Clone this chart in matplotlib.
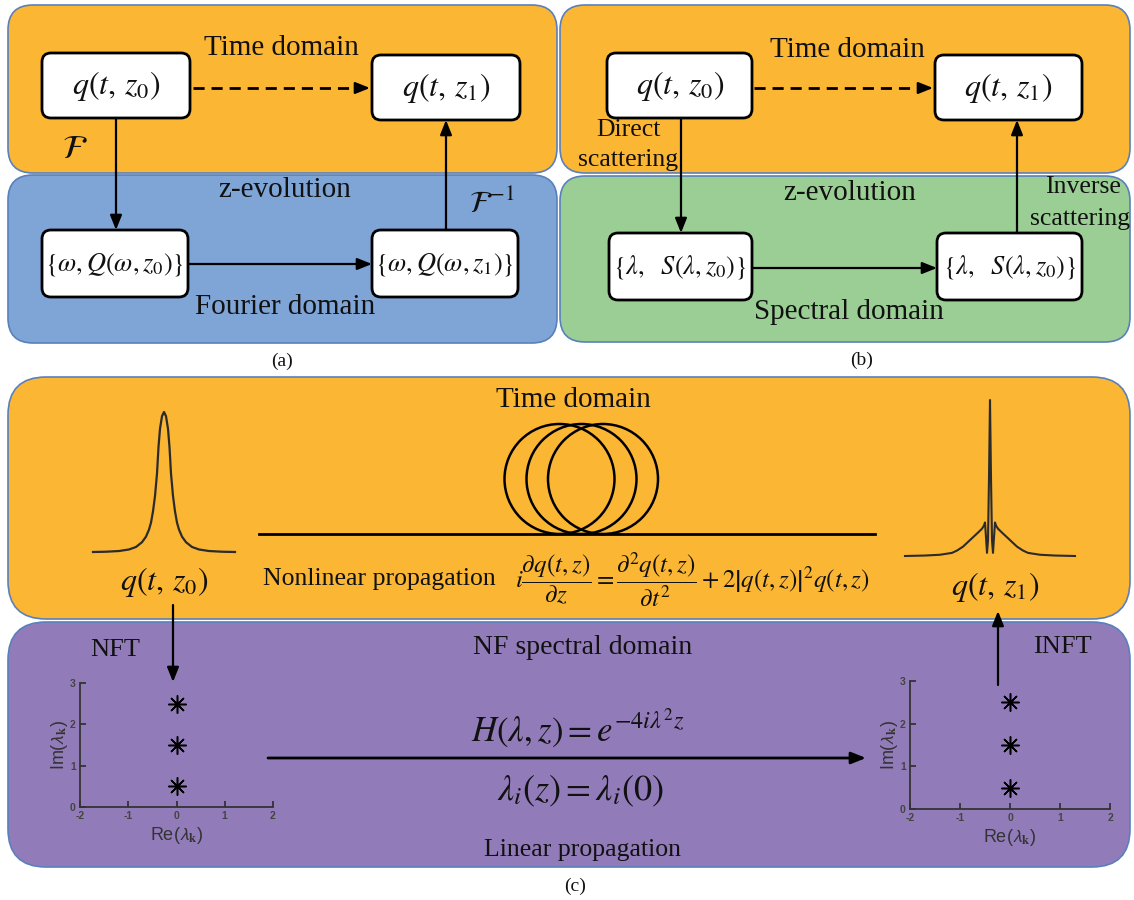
import matplotlib
matplotlib.use('Agg')
import matplotlib.pyplot as plt
from matplotlib.patches import FancyBboxPatch, Circle

plt.rcParams['mathtext.fontset'] = 'stix'
plt.rcParams['font.family'] = ['Liberation Serif', 'DejaVu Serif']
plt.rcParams['axes.unicode_minus'] = False

# ---------------- data ----------------
panel_labels = ['(a)', '(b)', '(c)']
# input pulse |q(t,z0)| (t offset in samples, normalised amplitude)
left_pulse_t = [-71, -58, -45, -35, -28, -22, -18, -15, -13, -11, -9, -7, -5.5, -4, -2, 0,
                2, 4, 5.5, 7, 9, 11, 13, 15, 18, 22, 28, 35, 45, 58, 71]
left_pulse_a = [0, 0.002, 0.007, 0.018, 0.036, 0.07, 0.11, 0.16, 0.21, 0.29, 0.4, 0.56, 0.75, 0.88, 0.97, 1.0,
                0.97, 0.88, 0.75, 0.56, 0.4, 0.29, 0.21, 0.16, 0.11, 0.07, 0.036, 0.018, 0.007, 0.002, 0]
# output pulse |q(t,z1)|
right_pulse_t = [-85, -65, -50, -38, -33, -27, -22, -17, -12, -8, -6, -5, -4, -3, -2, -1, 0,
                 1, 2, 3, 4, 5, 6, 8, 12, 17, 22, 27, 33, 38, 50, 65, 85]
right_pulse_a = [0, 0.003, 0.008, 0.02, 0.035, 0.06, 0.09, 0.12, 0.15, 0.175, 0.195, 0.215, 0.12, 0.02, 0.1, 0.5, 1.0,
                 0.5, 0.1, 0.02, 0.12, 0.215, 0.195, 0.175, 0.15, 0.12, 0.09, 0.06, 0.035, 0.02, 0.008, 0.003, 0]
# discrete eigenvalues
eig_re = [0, 0, 0]
eig_im = [0.5, 1.5, 2.5]
re_ticks = [-2, -1, 0, 1, 2]
im_ticks = [0, 1, 2, 3]

ORANGE = '#FBB634'
BLUE = '#7FA4D6'
GREEN = '#9BCE94'
PURPLE = '#927BB9'
EDGE = '#5A80BC'

W, H = 1134, 900
fig = plt.figure(figsize=(W / 100, H / 100), dpi=100)
fig.patch.set_facecolor('white')
ax = fig.add_axes([0, 0, 1, 1])
ax.set_xlim(0, W)
ax.set_ylim(H, 0)
ax.axis('off')


def fig_rect(x0, y0, x1, y1):
    return [x0 / W, 1 - y1 / H, (x1 - x0) / W, (y1 - y0) / H]


def rpanel(x0, y0, x1, y1, fc, r, ec=EDGE, lw=1.2, z=1):
    ax.add_patch(FancyBboxPatch((x0, y0), x1 - x0, y1 - y0,
                                boxstyle=f"round,pad=0,rounding_size={r}",
                                fc=fc, ec=ec, lw=lw, zorder=z))


def wbox(x0, y0, x1, y1):
    rpanel(x0, y0, x1, y1, 'white', 9, ec='black', lw=2.0, z=3)


def arrow(x0, y0, x1, y1, lw=1.6):
    ax.annotate('', xy=(x1, y1), xytext=(x0, y0),
                arrowprops=dict(arrowstyle='-|>,head_length=0.55,head_width=0.22',
                                lw=lw, color='black', shrinkA=0, shrinkB=0,
                                mutation_scale=16), zorder=6)


def dashed_arrow(x0, x1, y):
    ax.plot([x0, x1 - 8], [y, y], color='black', lw=2, dashes=(4, 2.5), zorder=6)
    arrow(x1 - 9, y, x1, y)


def txt(x, y, s, size=21, **kw):
    kw.setdefault('ha', 'center')
    kw.setdefault('va', 'center')
    ax.text(x, y, s, fontsize=size, color='#111111', zorder=7, **kw)


# ---------------- panel (a) ----------------
rpanel(8, 5, 557, 173, ORANGE, 25)
rpanel(8, 175, 557, 343, BLUE, 25)
txt(281, 48, 'Time domain')
wbox(42, 53, 190, 118)
txt(116, 86, r'$q(t,\,z_0)$', 23)
wbox(372, 55, 520, 120)
txt(446, 88, r'$q(t,\,z_1)$', 23)
dashed_arrow(193, 370, 88)
txt(75, 150, r'$\mathcal{F}$', 24)
arrow(116, 118, 116, 230)
txt(285, 190, 'z-evolution')
txt(492, 205, r'$\mathcal{F}^{-1}$', 22)
wbox(42, 230, 188, 297)
txt(115, 264, r'$\{\omega,Q\left(\omega,z_0\right)\}$', 19)
wbox(372, 230, 518, 297)
txt(445, 264, r'$\{\omega,Q\left(\omega,z_1\right)\}$', 19)
arrow(188, 264, 372, 264)
arrow(446, 230, 446, 120)
txt(285, 307, 'Fourier domain')
txt(282, 361, panel_labels[0], 14)

# ---------------- panel (b) ----------------
rpanel(560, 5, 1130, 173, ORANGE, 25)
rpanel(560, 176, 1130, 342, GREEN, 25)
txt(847, 50, 'Time domain')
wbox(607, 53, 752, 118)
txt(680, 86, r'$q(t,\,z_0)$', 23)
wbox(935, 55, 1082, 120)
txt(1008, 88, r'$q(t,\,z_1)$', 23)
dashed_arrow(754, 933, 88)
txt(628, 130, 'Direct', 18.5)
txt(628, 160, 'scattering', 18.5)
arrow(681, 118, 681, 233)
txt(850, 193, 'z-evolution')
txt(1083, 187, 'Inverse', 18.5)
txt(1080, 219, 'scattering', 18.5)
wbox(609, 233, 752, 300)
txt(680, 267, r'$\{\lambda,\ \ S\left(\lambda,z_0\right)\}$', 19)
wbox(937, 233, 1082, 300)
txt(1010, 267, r'$\{\lambda,\ \ S\left(\lambda,z_0\right)\}$', 19)
arrow(752, 268, 937, 268)
arrow(1017, 233, 1017, 120)
txt(849, 312, 'Spectral domain')
txt(862, 360, panel_labels[1], 14)

# ---------------- panel (c) ----------------
rpanel(8, 377, 1130, 619, ORANGE, 38)
rpanel(8, 622, 1130, 867, PURPLE, 38)
txt(573, 400, 'Time domain')

# fibre spool
ax.plot([259, 875], [534, 534], color='black', lw=2, zorder=4)
for cx in (559.5, 581.5, 603):
    ax.add_patch(Circle((cx, 479), 55, fill=False, ec='black', lw=1.8, zorder=4))

# pulses
axl = fig.add_axes(fig_rect(93, 412, 235, 552))
axl.plot(left_pulse_t, left_pulse_a, color='#2b2b2b', lw=1.6, clip_on=False)
axl.set_xlim(-71, 71)
axl.set_ylim(0, 1)
axl.axis('off')

axr = fig.add_axes(fig_rect(905, 400, 1075, 556))
axr.plot(right_pulse_t, right_pulse_a, color='#2b2b2b', lw=1.5, clip_on=False)
axr.set_xlim(-85, 85)
axr.set_ylim(0, 1)
axr.axis('off')

txt(164, 582, r'$q(t,\,z_0)$', 23)
txt(995, 587, r'$q(t,\,z_1)$', 23)
txt(263, 585, 'Nonlinear propagation', 18.5, ha='left', va='baseline')
txt(515, 580,
    r'$i\dfrac{\partial q\left(t,z\right)}{\partial z}=\dfrac{\partial^2 q\left(t,z\right)}{\partial t^2}'
    r'+2\left|q\left(t,z\right)\right|^2 q\left(t,z\right)$', 18, ha='left')

arrow(173, 605, 173, 682)
arrow(998, 685, 998, 611)
txt(115, 650, 'NFT', 19)
txt(1062, 647, 'INFT', 19)
txt(583, 648, 'NF spectral domain', 20)
txt(578, 728, r'$H\left(\lambda,z\right)=e^{-4i\lambda^2 z}$', 25)
arrow(268, 758, 866, 758, lw=2)
txt(580, 791, r'$\lambda_i\left(z\right)=\lambda_i(0)$', 26)
txt(583, 850, 'Linear propagation', 18.5)
txt(575, 886, panel_labels[2], 14)


# eigenvalue mini plots
def eig_axes(x0, x1, y0, y1):
    a = fig.add_axes(fig_rect(x0, y1, x1, y0))
    a.set_facecolor('none')
    a.plot(eig_re, eig_im, ls='none', marker=(8, 2, 0), ms=13, mec='black', mew=1.1, clip_on=False)
    a.plot(eig_re, eig_im, ls='none', marker='s', ms=3.5, color='black', clip_on=False)
    a.set_xlim(-2, 2)
    a.set_ylim(0, 3)
    a.set_xticks(re_ticks)
    a.set_yticks(im_ticks)
    for s in ('top', 'right'):
        a.spines[s].set_visible(False)
    for s in ('left', 'bottom'):
        a.spines[s].set_color('#333333')
        a.spines[s].set_linewidth(1.3)
    a.tick_params(direction='in', length=4, width=1.3, colors='#333333', labelsize=7.5, pad=3)
    for lab in a.get_xticklabels() + a.get_yticklabels():
        lab.set_fontfamily('Liberation Sans')
        lab.set_fontweight('bold')
        lab.set_color('#444444')
    a.set_xlabel(r'Re($\mathsf{\lambda}_{\mathbf{k}}$)', fontsize=13, family='Liberation Sans',
                 color='#333333', labelpad=3)
    a.set_ylabel(r'Im($\mathsf{\lambda}_{\mathbf{k}}$)', fontsize=13, family='Liberation Sans',
                 color='#333333', labelpad=0)
    return a


eig_axes(80, 273, 807, 683)
eig_axes(910, 1110, 809, 681)

fig.savefig('out.png', dpi=100, facecolor='white')
